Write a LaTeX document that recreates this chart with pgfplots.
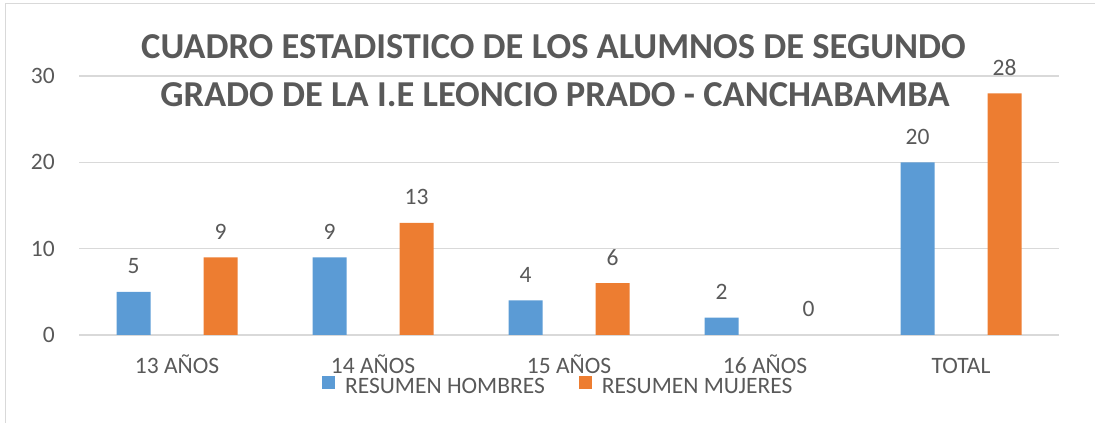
\documentclass[border=0pt]{standalone}
\usepackage{fontspec}
\setmainfont{Carlito}
\usepackage{pgfplots}
\pgfplotsset{compat=1.18}
\definecolor{cblue}{HTML}{5B9BD5}
\definecolor{corange}{HTML}{ED7D31}
\definecolor{ctext}{HTML}{595959}
\definecolor{cgrid}{HTML}{D9D9D9}
\newcommand{\lblfont}{\fontsize{23.5}{28}\selectfont}
\begin{document}
\begin{tikzpicture}[x=1pt,y=1pt]
\useasboundingbox (0,0) rectangle (1095,423);
\draw[cgrid, line width=1.5pt] (5.5,0) -- (5.5,419.5) -- (1095,419.5);
\begin{axis}[
  at={(79pt,88pt)}, anchor=south west,
  scale only axis, width=980pt, height=259pt,
  xmin=-0.5, xmax=4.5, ymin=0, ymax=30,
  ytick={0,10,20,30},
  xtick={0,1,2,3,4},
  xticklabels={13 AÑOS,14 AÑOS,15 AÑOS,16 AÑOS,TOTAL},
  axis line style={draw=none},
  major tick length=0pt,
  ymajorgrids, major grid style={cgrid, line width=1.5pt},
  tick label style={font=\lblfont, text=ctext},
  /pgf/number format/assume math mode=true,
  yticklabel style={anchor=east, inner sep=0pt, xshift=-24pt},
  xticklabel style={anchor=base, inner sep=0pt, yshift=-38pt},
  ybar, bar width=34pt,
  nodes near coords,
  nodes near coords style={font=\lblfont, text=ctext, anchor=base, inner sep=0pt, yshift=18pt},
  legend style={at={(axis description cs:0.489,-0.2)}, anchor=center, draw=none, fill=none,
    legend columns=2, font=\lblfont, text=ctext,
    /tikz/every odd column/.append style={column sep=8pt},
    /tikz/every even column/.append style={column sep=32pt}},
  legend image code/.code={\fill[#1] (0pt,-2pt) rectangle (13pt,11pt);},
]
\addplot[fill=cblue, draw=none, bar shift=-43.5pt] coordinates {(0,5) (1,9) (2,4) (3,2) (4,20)};
\addplot[fill=corange, draw=none, bar shift=43.5pt] coordinates {(0,9) (1,13) (2,6) (4,28)};
\addplot[fill=none, draw=none, bar shift=43.5pt, forget plot] coordinates {(3,0)};
\legend{RESUMEN HOMBRES, RESUMEN MUJERES}
\end{axis}
\node[anchor=base, inner sep=0pt, font=\fontsize{36.5}{44}\selectfont\bfseries, text=ctext] at (553.5,364) {CUADRO ESTADISTICO DE LOS ALUMNOS DE SEGUNDO};
\node[anchor=base, inner sep=0pt, font=\fontsize{36.5}{44}\selectfont\bfseries, text=ctext] at (555,316) {GRADO DE LA I.E LEONCIO PRADO - CANCHABAMBA};
\end{tikzpicture}
\end{document}
